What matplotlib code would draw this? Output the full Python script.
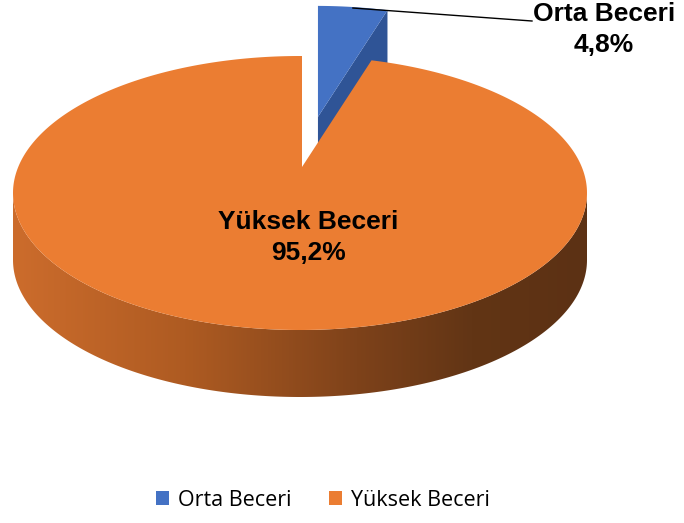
import numpy as np
import matplotlib
matplotlib.use('Agg')
import matplotlib.pyplot as plt
from matplotlib.patches import Polygon, Patch
from matplotlib.colors import LinearSegmentedColormap

# data
labels = ['Orta Beceri', 'Yüksek Beceri']
values = [4.8, 95.2]
colors = ['#4472C4', '#EB7D32']
side_colors = ['#2F5496', None]

# 3D pie geometry (pixel space of the figure)
ell_c = np.array([300.0, 193.0])   # centre of the top ellipse
rx, ry = 287.0, 137.0
pie_c = np.array([302.0, 167.0])   # projected centre of the disc
depth = 67.0
explode = 0.37


def rim(phi, centre, ecentre):
    # point where the ray from centre with angle phi hits the ellipse
    d = np.array([np.sin(phi) * rx, -np.cos(phi) * ry])
    p = centre - ecentre
    a = (d[0] / rx) ** 2 + (d[1] / ry) ** 2
    b = 2 * (p[0] * d[0] / rx ** 2 + p[1] * d[1] / ry ** 2)
    c = (p[0] / rx) ** 2 + (p[1] / ry) ** 2 - 1
    s = (-b + np.sqrt(b * b - 4 * a * c)) / (2 * a)
    return centre + s * d


fig = plt.figure(figsize=(6.84, 5.23), dpi=100)
ax = fig.add_axes([0, 0, 1, 1])
ax.set_xlim(0, 684)
ax.set_ylim(523, 0)
ax.axis('off')

fr = np.array(values) / sum(values)
starts = np.concatenate([[0], np.cumsum(fr)[:-1]]) * 2 * np.pi
ends = np.cumsum(fr) * 2 * np.pi

# blue slice (exploded)
mid = (starts[0] + ends[0]) / 2
off = explode * np.array([np.sin(mid) * rx, -np.cos(mid) * ry])
bc = pie_c + off
be = ell_c + off
r_end = rim(ends[0], bc, be)
sideface = np.array([bc, r_end, r_end + [0, depth], bc + [0, depth]])
ax.add_patch(Polygon(sideface, closed=True, facecolor=side_colors[0], edgecolor='none'))
phis = np.linspace(starts[0], ends[0], 30)
top_b = [bc] + [rim(p, bc, be) for p in phis]
ax.add_patch(Polygon(top_b, closed=True, facecolor=colors[0], edgecolor='none'))

# orange slice side with gradient
t = np.linspace(np.pi / 2, 3 * np.pi / 2, 200)
arc = np.column_stack([ell_c[0] + rx * np.sin(t), ell_c[1] - ry * np.cos(t)])
side = np.vstack([arc, arc[::-1] + [0, depth]])
side_patch = Polygon(side, closed=True, facecolor='none', edgecolor='none')
ax.add_patch(side_patch)
grad_cmap = LinearSegmentedColormap.from_list('side', [
    (0.0, '#CC6C2C'), (0.3, '#AE5B22'), (0.6, '#7E421A'), (0.8, '#623515'), (1.0, '#5C3114')])
grad = np.linspace(0, 1, 256).reshape(1, -1)
im = ax.imshow(grad, cmap=grad_cmap, aspect='auto',
               extent=[ell_c[0] - rx, ell_c[0] + rx, ell_c[1] + ry + depth, ell_c[1] - 5],
               interpolation='bilinear')
im.set_clip_path(side_patch)
ax.set_xlim(0, 684)
ax.set_ylim(523, 0)

# orange top face
phis = np.linspace(starts[1], ends[1], 400)
top_o = [pie_c] + [rim(p, pie_c, ell_c) for p in phis]
ax.add_patch(Polygon(top_o, closed=True, facecolor=colors[1], edgecolor='none'))


def fmt(v):
    return f'{v:.1f}'.replace('.', ',') + '%'


font = ['Liberation Sans', 'DejaVu Sans']
lab_kw = dict(ha='center', va='center', fontsize=19, fontweight='bold', family=font)
# labels
ax.text(604, 14, labels[0], **lab_kw)
ax.text(604, 45, fmt(values[0]), **lab_kw)
ax.text(308, 222, labels[1], **lab_kw)
ax.text(308, 253, fmt(values[1]), **lab_kw)

# leader line
lp = rim(mid, bc, be)
ax.plot([lp[0], 532], [lp[1] + 1, 21], color='black', lw=1)

handles = [Patch(facecolor=c, edgecolor='none') for c in colors]
fig.legend(handles, labels, loc='center', bbox_to_anchor=(323 / 684, 1 - 500 / 523), ncol=2,
           frameon=False, handlelength=0.6, handleheight=0.6, handletextpad=0.4,
           columnspacing=1.75, borderpad=0, prop={'family': ['Open Sans', 'DejaVu Sans'], 'size': 15.5})

fig.savefig('out.png', dpi=100)
